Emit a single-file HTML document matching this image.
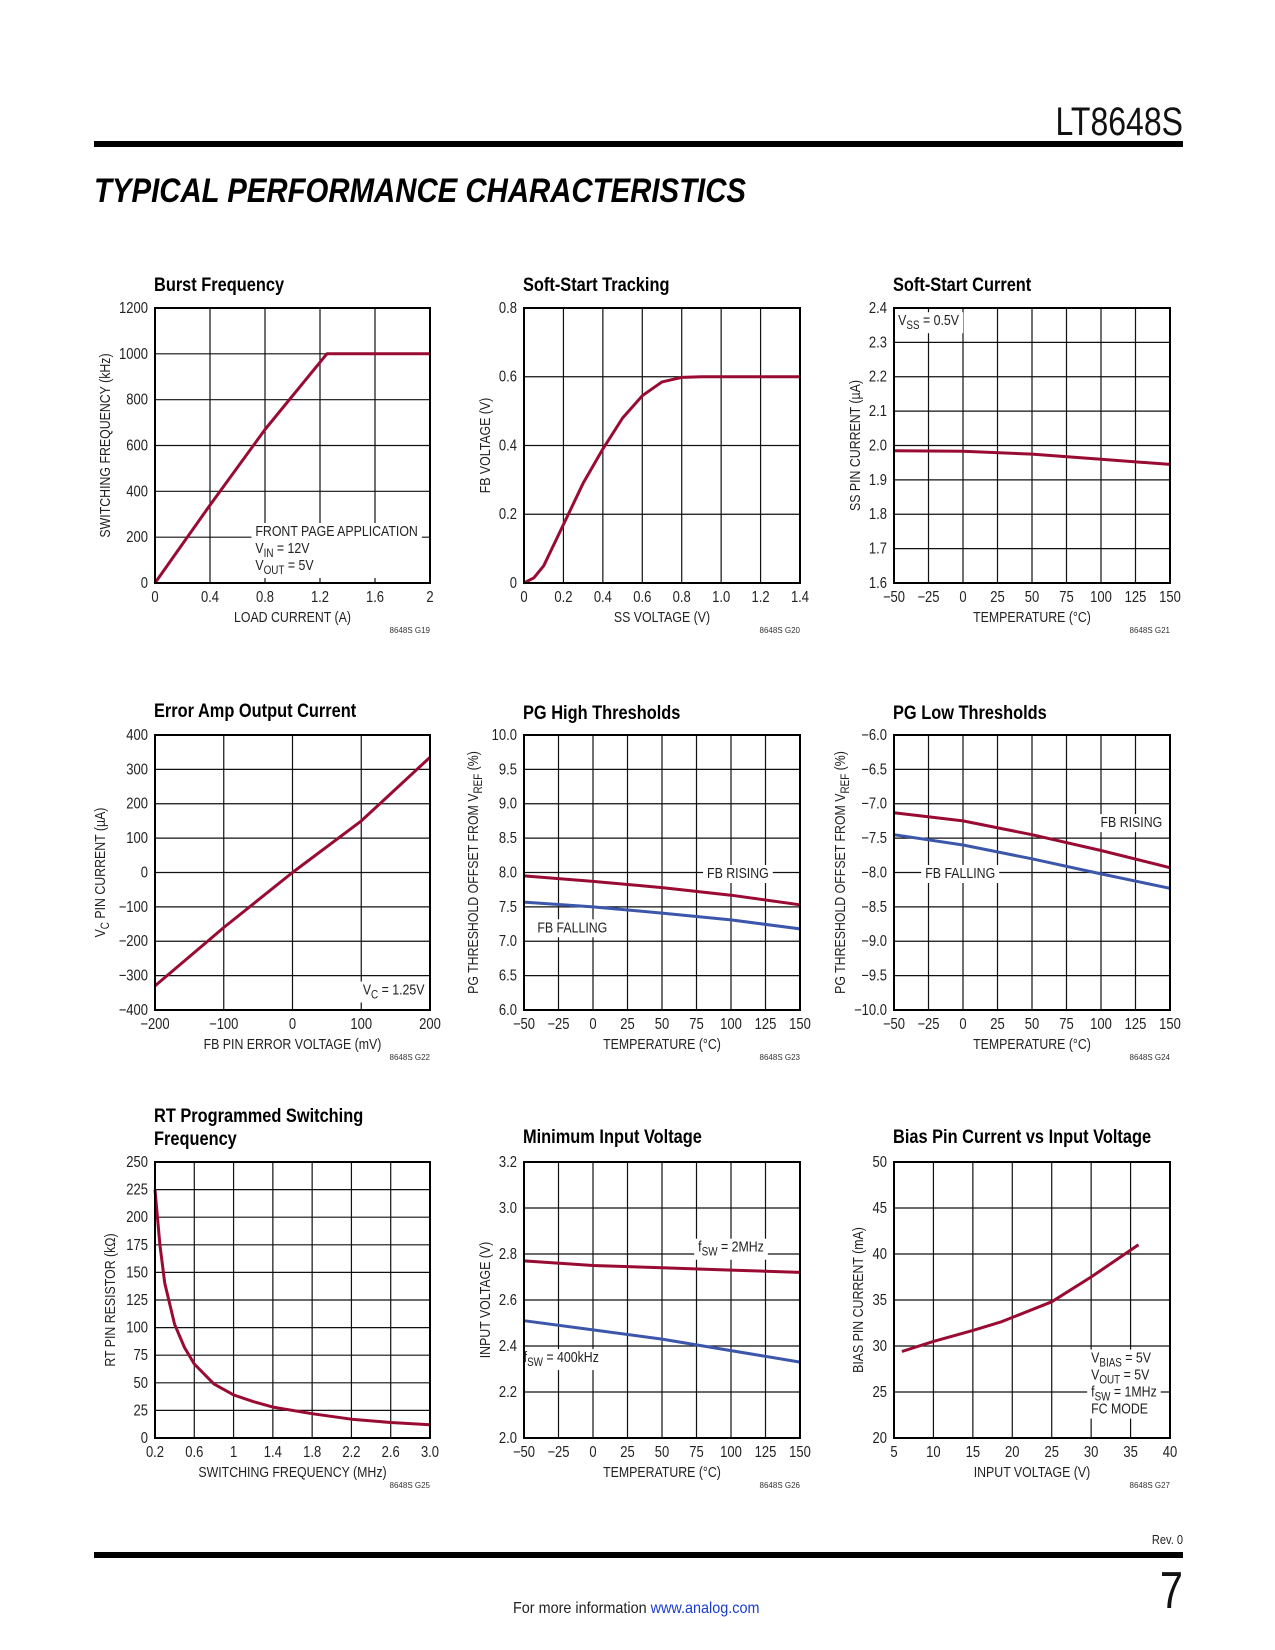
<!DOCTYPE html>
<html><head><meta charset="utf-8">
<style>
html,body{margin:0;padding:0;background:#fff;}
svg{display:block;font-family:"Liberation Sans Narrow","Liberation Sans",sans-serif;}
.tk{font-size:15.5px;fill:#222;}
.ttl{font-size:19.5px;font-weight:bold;fill:#000;}
.ax{font-size:14.7px;fill:#222;}
.code{font-size:8px;fill:#333;}
</style></head>
<body>
<svg id="page" width="1275" height="1650" viewBox="0 0 1275 1650">
<text x="1183" y="135" text-anchor="end" font-size="40" fill="#111" transform="translate(1183,0) scale(0.8,1) translate(-1183,0)">LT8648S</text>
<rect x="94" y="141" width="1089" height="6" fill="#000"/>
<text x="94" y="202" font-size="34" font-weight="bold" font-style="italic" fill="#000" textLength="652" lengthAdjust="spacingAndGlyphs">TYPICAL PERFORMANCE CHARACTERISTICS</text>
<rect x="94" y="1552" width="1089" height="6" fill="#000"/>
<text x="1183" y="1544" text-anchor="end" font-size="13" fill="#222" transform="translate(1183,0) scale(0.85,1) translate(-1183,0)">Rev. 0</text>
<text x="1183" y="1608" text-anchor="end" font-size="52" fill="#111" transform="translate(1183,0) scale(0.8,1) translate(-1183,0)">7</text>
<text x="513" y="1613" font-size="16" fill="#222" transform="translate(513,0) scale(0.9,1) translate(-513,0)">For more information <tspan fill="#1a3cd0">www.analog.com</tspan></text>
<g id="charts"></g>
</svg>
<script>
// ---- chart data ----
const burstX=[0,0.2,0.4,0.8,1.25,2];
const burstY=[0,170,340,670,1000,1000];
const ssTrackX=[0,0.05,0.1,0.2,0.3,0.4,0.5,0.6,0.7,0.8,0.9,1.0,1.4];
const ssTrackY=[0,0.015,0.05,0.17,0.29,0.39,0.48,0.545,0.585,0.598,0.6,0.6,0.6];
const tempX=[-50,0,50,100,150];
const ssCurY=[1.985,1.983,1.975,1.96,1.945];
const eaX=[-200,-100,0,100,200];
const eaY=[-330,-160,0,150,335];
const pgHighRise=[7.95,7.87,7.78,7.67,7.53];
const pgHighFall=[7.57,7.5,7.41,7.31,7.18];
const pgLowRise=[-7.13,-7.25,-7.45,-7.68,-7.93];
const pgLowFall=[-7.45,-7.6,-7.8,-8.02,-8.23];
const rtX=[0.2,0.25,0.3,0.4,0.5,0.6,0.8,1.0,1.2,1.4,1.8,2.2,2.6,3.0];
const rtY=[225,175,140,103,82,67,49,39,33,28,22,17,14,12];
const minVin2M=[2.77,2.75,2.74,2.73,2.72];
const minVin400k=[2.51,2.47,2.43,2.38,2.33];
const biasX=[6,10,15,18.5,25,30,36];
const biasY=[29.4,30.5,31.7,32.6,34.8,37.5,41];
// tick labels
const burstXT=["0","0.4","0.8","1.2","1.6","2"];
const burstYT=["0","200","400","600","800","1000","1200"];
const ssXT=["0","0.2","0.4","0.6","0.8","1.0","1.2","1.4"];
const ssYT=["0","0.2","0.4","0.6","0.8"];
const tempT=["\u221250","\u221225","0","25","50","75","100","125","150"];
const ssCurT=["1.6","1.7","1.8","1.9","2.0","2.1","2.2","2.3","2.4"];
const eaXT=["\u2212200","\u2212100","0","100","200"];
const eaYT=["\u2212400","\u2212300","\u2212200","\u2212100","0","100","200","300","400"];
const pgHT=["6.0","6.5","7.0","7.5","8.0","8.5","9.0","9.5","10.0"];
const pgLT=["\u221210.0","\u22129.5","\u22129.0","\u22128.5","\u22128.0","\u22127.5","\u22127.0","\u22126.5","\u22126.0"];
const rtXT=["0.2","0.6","1","1.4","1.8","2.2","2.6","3.0"];
const rtYT=["0","25","50","75","100","125","150","175","200","225","250"];
const minVT=["2.0","2.2","2.4","2.6","2.8","3.0","3.2"];
const biasXT=["5","10","15","20","25","30","35","40"];
const biasYT=["20","25","30","35","40","45","50"];

const NS="http://www.w3.org/2000/svg";
const root=document.getElementById('charts');
const K=0.84; // condense factor
function mk(tag,attrs,parent){const e=document.createElementNS(NS,tag);for(const k in attrs)e.setAttribute(k,attrs[k]);(parent||root).appendChild(e);return e;}
function cond(t,x){t.setAttribute('transform',`translate(${x},0) scale(${K},1) translate(${-x},0)`);}
function rich(t,str){
  const parts=str.split(/_\{(.*?)\}/);
  parts.forEach((p,i)=>{if(!p)return;const s=document.createElementNS(NS,'tspan');s.textContent=p;
    if(i%2===1){s.setAttribute('font-size','0.8em');s.setAttribute('dy','4');}
    else if(i>0){s.setAttribute('dy','-4');}
    t.appendChild(s);});
}
const RED="#9a0b33",BLUE="#3b56aa";
function chart(c){
  const g=mk('g',{});
  
  
  const sx=v=>c.L+(v-c.x0)/(c.x1-c.x0)*(c.R-c.L);
  const sy=v=>c.B-(v-c.y0)/(c.y1-c.y0)*(c.B-c.T);
  const nx=c.xt.length-1, ny=c.yt.length-1;
  for(let i=1;i<nx;i++){const x=c.L+i*(c.R-c.L)/nx;const l=mk('line',{x1:x,x2:x,y1:c.T,y2:c.B,stroke:'#111','stroke-width':1.2},g);
    }
  for(let i=1;i<ny;i++){const y=c.B-i*(c.B-c.T)/ny;const l=mk('line',{x1:c.L,x2:c.R,y1:y,y2:y,stroke:'#111','stroke-width':1.2},g);
    }
  c.xt.forEach((s,i)=>{const x=c.L+i*(c.R-c.L)/nx;const t=mk('text',{x:x,y:c.B+19,'text-anchor':'middle',class:'tk'},g);t.textContent=s;cond(t,x);
    });
  c.yt.forEach((s,i)=>{const t=mk('text',{x:c.L-7,y:c.B-i*(c.B-c.T)/ny+5,'text-anchor':'end',class:'tk'},g);t.textContent=s;cond(t,c.L-7);
    });
  (c.notes||[]).forEach(n=>{
    const ng=mk('g',{},g);
    
    const bg=mk('rect',{fill:'#fff'},ng);
    const ax=sx(n.x);
    let x0=1e9,y0=1e9,x1=-1e9,y1=-1e9;
    n.lines.forEach((ln,i)=>{const t=mk('text',{x:ax,y:sy(n.y)+i*17,class:'ax','text-anchor':n.anchor||'start'},ng);rich(t,ln);
      const b=t.getBBox();const bx0=ax+(b.x-ax)*K,bx1=ax+(b.x+b.width-ax)*K;
      x0=Math.min(x0,bx0);x1=Math.max(x1,bx1);y0=Math.min(y0,b.y);y1=Math.max(y1,b.y+b.height);cond(t,ax);});
    bg.setAttribute('x',x0-4);bg.setAttribute('y',y0-1);bg.setAttribute('width',x1-x0+8);bg.setAttribute('height',y1-y0+2);
  });
  c.series.forEach(s=>{
    const d=s.x.map((v,i)=>(i?'L':'M')+sx(v).toFixed(1)+','+sy(s.y[i]).toFixed(1)).join(' ');
    const p=mk('path',{d:d,fill:'none',stroke:s.color,'stroke-width':3,'stroke-linejoin':'round'},g);
    
  });
  const f=mk('rect',{x:c.L,y:c.T,width:c.R-c.L,height:c.B-c.T,fill:'none',stroke:'#000','stroke-width':2},g);
  
  c.title.forEach((s,i)=>{const t=mk('text',{x:c.L-1,y:c.ty+i*23,class:'ttl'},g);t.textContent=s;cond(t,c.L-1);
    });
  const xm=(c.L+c.R)/2;
  const xt=mk('text',{x:xm,y:c.B+39,'text-anchor':'middle',class:'ax'},g);xt.textContent=c.xl;cond(xt,xm);
  
  const yx=c.yx,yc=(c.T+c.B)/2;
  const yt=mk('text',{x:yx,y:yc,'text-anchor':'middle',class:'ax',transform:`rotate(-90 ${yx} ${yc}) translate(${yx},0) scale(${K},1) translate(${-yx},0)`},g);rich(yt,c.yl);
  
  const cd=mk('text',{x:c.R,y:c.B+50,'text-anchor':'end',class:'code'},g);cd.textContent=c.code;
  
}
const C1=[155,430],C2=[524,800],C3=[894,1170];
const R1=[308,583],R2=[735,1010],R3=[1162,1438];
chart({name:'burst-frequency-chart',L:C1[0],R:C1[1],T:R1[0],B:R1[1],x0:0,x1:2,y0:0,y1:1200,xt:burstXT,yt:burstYT,
  title:['Burst Frequency'],ty:291,xl:'LOAD CURRENT (A)',yl:'SWITCHING FREQUENCY (kHz)',yx:110,code:'8648S G19',
  notes:[{x:0.73,y:205,lines:['FRONT PAGE APPLICATION','V_{IN} = 12V','V_{OUT} = 5V']}],
  series:[{name:'burst-frequency-line',x:burstX,y:burstY,color:RED}]});
chart({name:'soft-start-tracking-chart',L:C2[0],R:C2[1],T:R1[0],B:R1[1],x0:0,x1:1.4,y0:0,y1:0.8,xt:ssXT,yt:ssYT,
  title:['Soft-Start Tracking'],ty:291,xl:'SS VOLTAGE (V)',yl:'FB VOLTAGE (V)',yx:490,code:'8648S G20',
  series:[{name:'fb-voltage-line',x:ssTrackX,y:ssTrackY,color:RED}]});
chart({name:'soft-start-current-chart',L:C3[0],R:C3[1],T:R1[0],B:R1[1],x0:-50,x1:150,y0:1.6,y1:2.4,xt:tempT,yt:ssCurT,
  title:['Soft-Start Current'],ty:291,xl:'TEMPERATURE (\u00B0C)',yl:'SS PIN CURRENT (\u00B5A)',yx:860,code:'8648S G21',
  notes:[{x:-47,y:2.35,lines:['V_{SS} = 0.5V']}],
  series:[{name:'ss-current-line',x:tempX,y:ssCurY,color:RED}]});
chart({name:'error-amp-output-current-chart',L:C1[0],R:C1[1],T:R2[0],B:R2[1],x0:-200,x1:200,y0:-400,y1:400,xt:eaXT,yt:eaYT,
  title:['Error Amp Output Current'],ty:717,xl:'FB PIN ERROR VOLTAGE (mV)',yl:'V_{C} PIN CURRENT (\u00B5A)',yx:105,code:'8648S G22',
  notes:[{x:192,y:-355,anchor:'end',lines:['V_{C} = 1.25V']}],
  series:[{name:'vc-current-line',x:eaX,y:eaY,color:RED}]});
chart({name:'pg-high-thresholds-chart',L:C2[0],R:C2[1],T:R2[0],B:R2[1],x0:-50,x1:150,y0:6,y1:10,xt:tempT,yt:pgHT,
  title:['PG High Thresholds'],ty:719,xl:'TEMPERATURE (\u00B0C)',yl:'PG THRESHOLD OFFSET FROM V_{REF} (%)',yx:478,code:'8648S G23',
  notes:[{x:105,y:7.92,anchor:'middle',lines:['FB RISING']},{x:-15,y:7.13,anchor:'middle',lines:['FB FALLING']}],
  series:[{name:'fb-rising-line',x:tempX,y:pgHighRise,color:RED},{name:'fb-falling-line',x:tempX,y:pgHighFall,color:BLUE}]});
chart({name:'pg-low-thresholds-chart',L:C3[0],R:C3[1],T:R2[0],B:R2[1],x0:-50,x1:150,y0:-10,y1:-6,xt:tempT,yt:pgLT,
  title:['PG Low Thresholds'],ty:719,xl:'TEMPERATURE (\u00B0C)',yl:'PG THRESHOLD OFFSET FROM V_{REF} (%)',yx:845,code:'8648S G24',
  notes:[{x:122,y:-7.34,anchor:'middle',lines:['FB RISING']},{x:-2,y:-8.08,anchor:'middle',lines:['FB FALLING']}],
  series:[{name:'fb-rising-line',x:tempX,y:pgLowRise,color:RED},{name:'fb-falling-line',x:tempX,y:pgLowFall,color:BLUE}]});
chart({name:'rt-programmed-frequency-chart',L:C1[0],R:C1[1],T:R3[0],B:R3[1],x0:0.2,x1:3.0,y0:0,y1:250,xt:rtXT,yt:rtYT,
  title:['RT Programmed Switching','Frequency'],ty:1122,xl:'SWITCHING FREQUENCY (MHz)',yl:'RT PIN RESISTOR (k\u03A9)',yx:115,code:'8648S G25',
  series:[{name:'rt-resistor-line',x:rtX,y:rtY,color:RED}]});
chart({name:'minimum-input-voltage-chart',L:C2[0],R:C2[1],T:R3[0],B:R3[1],x0:-50,x1:150,y0:2.0,y1:3.2,xt:tempT,yt:minVT,
  title:['Minimum Input Voltage'],ty:1143,xl:'TEMPERATURE (\u00B0C)',yl:'INPUT VOLTAGE (V)',yx:490,code:'8648S G26',
  notes:[{x:100,y:2.81,anchor:'middle',lines:['f_{SW} = 2MHz']},{x:-23,y:2.33,anchor:'middle',lines:['f_{SW} = 400kHz']}],
  series:[{name:'fsw-2mhz-line',x:tempX,y:minVin2M,color:RED},{name:'fsw-400khz-line',x:tempX,y:minVin400k,color:BLUE}]});
chart({name:'bias-pin-current-chart',L:C3[0],R:C3[1],T:R3[0],B:R3[1],x0:5,x1:40,y0:20,y1:50,xt:biasXT,yt:biasYT,
  title:['Bias Pin Current vs Input Voltage'],ty:1143,xl:'INPUT VOLTAGE (V)',yl:'BIAS PIN CURRENT (mA)',yx:863,code:'8648S G27',
  notes:[{x:30,y:28.2,lines:['V_{BIAS} = 5V','V_{OUT} = 5V','f_{SW} = 1MHz','FC MODE']}],
  series:[{name:'bias-current-line',x:biasX,y:biasY,color:RED}]});
</script>
</body></html>
